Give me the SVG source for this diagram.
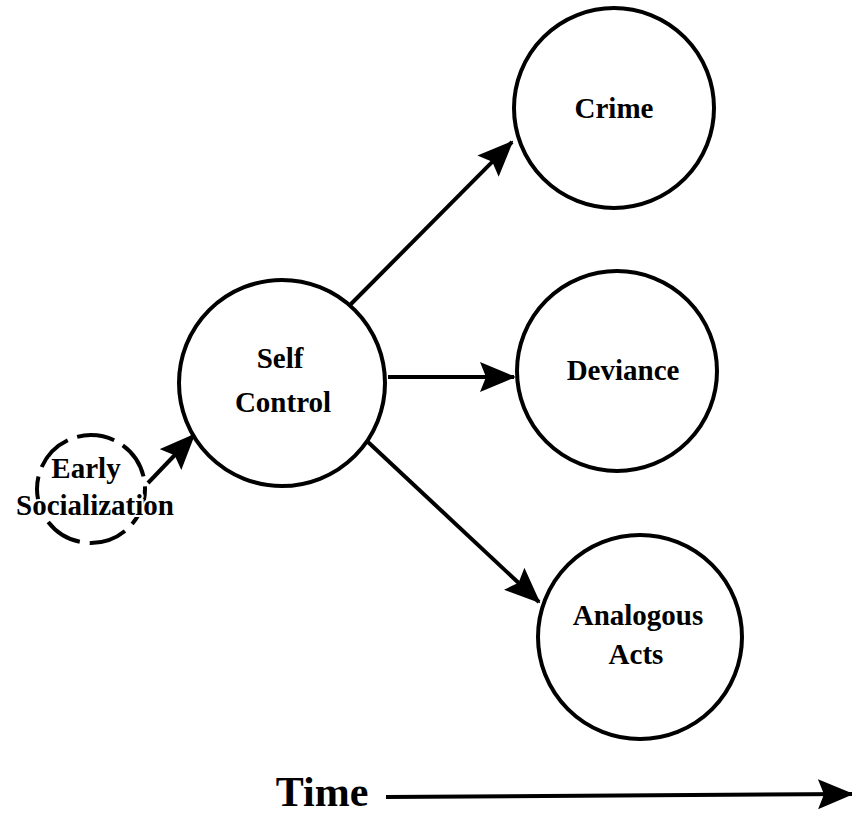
<svg xmlns="http://www.w3.org/2000/svg" width="852" height="815" viewBox="0 0 852 815">
  <style>
    .node { fill: #fff; stroke: #000; stroke-width: 4; }
    .dashed { stroke-dasharray: 38 10; }
    .label { font-family: "Liberation Serif", "Times New Roman", serif; font-weight: bold; font-size: 29px; text-anchor: middle; fill: #000; }
    .halo { stroke: #fff; stroke-width: 4; paint-order: stroke; }
    .edge { stroke: #000; stroke-width: 4; fill: none; marker-end: url(#head); }
  </style>
  <defs>
    <marker id="head" markerUnits="userSpaceOnUse" markerWidth="36" markerHeight="30" refX="34" refY="15" orient="auto">
      <path d="M0,0 L36,15 L0,30 L6,15 Z" fill="#000"/>
    </marker>
  </defs>

  <rect width="852" height="815" fill="#fff"/>

  <g id="early-socialization">
    <circle class="node dashed" cx="91" cy="489" r="54"/>
    <text class="label halo" x="86" y="478">Early</text>
    <text class="label halo" x="95" y="515">Socialization</text>
  </g>

  <g id="self-control">
    <circle class="node" cx="282" cy="383" r="103"/>
    <text class="label" x="280" y="368">Self</text>
    <text class="label" x="283" y="412">Control</text>
  </g>

  <g id="crime">
    <circle class="node" cx="614" cy="108" r="100"/>
    <text class="label" x="614" y="118">Crime</text>
  </g>

  <g id="deviance">
    <circle class="node" cx="617" cy="371" r="100"/>
    <text class="label" x="623" y="380">Deviance</text>
  </g>

  <g id="analogous-acts">
    <circle class="node" cx="640" cy="637" r="102"/>
    <text class="label" x="638" y="625">Analogous</text>
    <text class="label" x="636" y="664">Acts</text>
  </g>

  <g id="connectors">
    <line class="edge" x1="148" y1="483" x2="194" y2="435"/>
    <line class="edge" x1="350" y1="305" x2="512" y2="142"/>
    <line class="edge" x1="388" y1="377" x2="514" y2="377"/>
    <line class="edge" x1="368" y1="442" x2="539" y2="602"/>
    <line class="edge" x1="386" y1="797" x2="852" y2="794"/>
  </g>

  <text x="322" y="806" font-family="Liberation Serif, Times New Roman, serif" font-weight="bold" font-size="42" text-anchor="middle">Time</text>
</svg>
